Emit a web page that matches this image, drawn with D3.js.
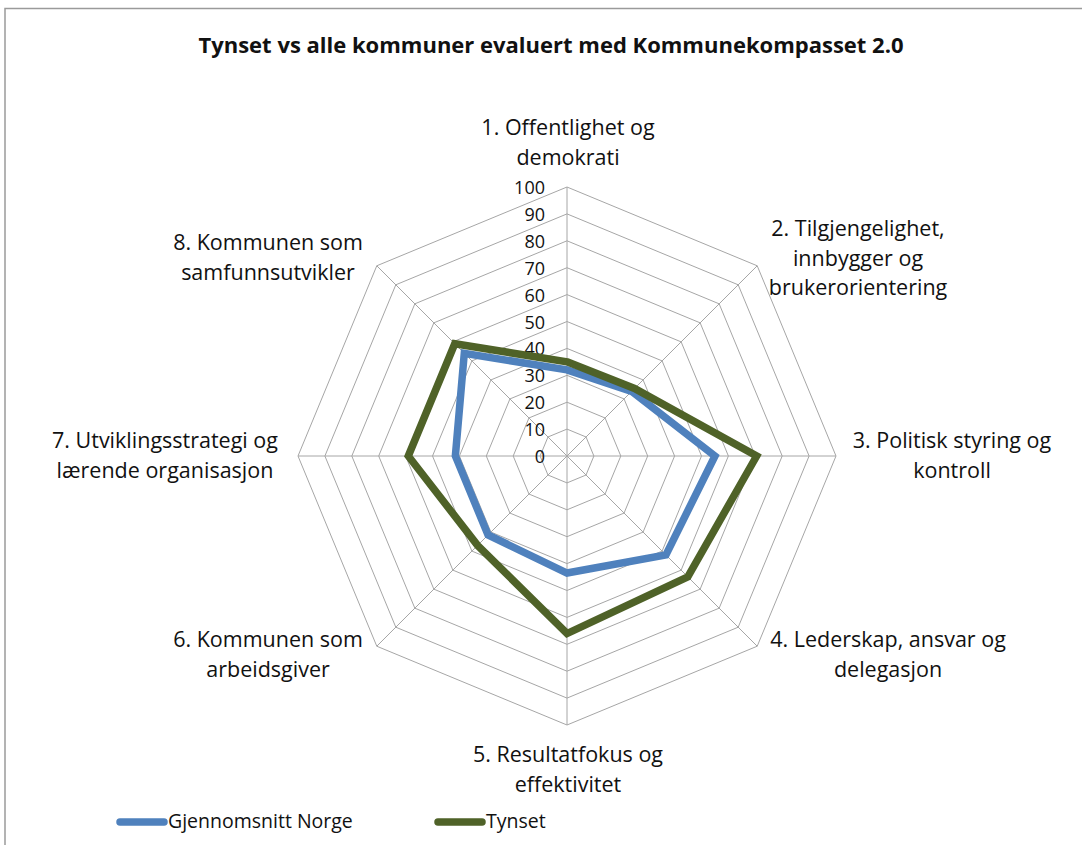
<!DOCTYPE html>
<html>
<head>
<meta charset="utf-8">
<title>Kommunekompasset radar</title>
<script src="https://d3js.org/d3.v7.min.js"></script>
<style>
  body { margin: 0; background: #fff; }
  svg text { font-family: "Open Sans", sans-serif; fill: #111; }
  .grid { fill: none; stroke: #a6a6a6; stroke-width: 1px; }
</style>
</head>
<body>
<div id="viz"></div>
<script>
// axis labels, one entry per spoke (split into lines)
var categories = [
  ["1. Offentlighet og", "demokrati"],
  ["2. Tilgjengelighet,", "innbygger og", "brukerorientering"],
  ["3. Politisk styring og", "kontroll"],
  ["4. Lederskap, ansvar og", "delegasjon"],
  ["5. Resultatfokus og", "effektivitet"],
  ["6. Kommunen som", "arbeidsgiver"],
  ["7. Utviklingsstrategi og", "lærende organisasjon"],
  ["8. Kommunen som", "samfunnsutvikler"]
];
var seriesNames = ["Gjennomsnitt Norge", "Tynset"];
var norge  = [32, 34, 55, 52, 43.5, 41.5, 41.5, 54];
var tynset = [35, 35.5, 70.5, 63.5, 66, 47, 59, 59];
var ticks = [0, 10, 20, 30, 40, 50, 60, 70, 80, 90, 100];
var colors = ["#4f81bd", "#4f6228"];

var W = 1082, H = 845;
var cx = 567, cy = 456, R = 269;

var svg = d3.select("#viz").append("svg")
    .attr("width", W)
    .attr("height", H);

// chart area frame (only top and left edges visible in the picture)
svg.append("path")
    .attr("d", "M5,845 L5,8.5 L1082,8.5")
    .attr("fill", "none")
    .attr("stroke", "#9a9a9a")
    .attr("stroke-width", 1.5);

svg.append("text")
    .attr("x", 551)
    .attr("y", 53)
    .attr("text-anchor", "middle")
    .style("font-size", "22px")
    .style("font-weight", "bold")
    .text("Tynset vs alle kommuner evaluert med Kommunekompasset 2.0");

var n = categories.length;
var r = d3.scaleLinear().domain([0, 100]).range([0, R]);
var angle = function(i) { return i * 2 * Math.PI / n; };

var g = svg.append("g").attr("transform", "translate(" + cx + "," + cy + ")");

// rings
var ring = d3.lineRadial().angle(function(d, i) { return angle(i); }).curve(d3.curveLinearClosed);
ticks.slice(1).forEach(function(t) {
  g.append("path")
      .attr("class", "grid")
      .attr("d", ring.radius(r(t))(d3.range(n)));
});

// spokes
d3.range(n).forEach(function(i) {
  g.append("line")
      .attr("class", "grid")
      .attr("x1", 0).attr("y1", 0)
      .attr("x2", r(100) * Math.sin(angle(i)))
      .attr("y2", -r(100) * Math.cos(angle(i)));
});

// tick labels on the vertical axis
g.selectAll(".tick")
    .data(ticks)
  .enter().append("text")
    .attr("x", -22)
    .attr("y", function(d) { return -r(d) + 7; })
    .attr("text-anchor", "end")
    .style("font-size", "18px")
    .text(function(d) { return d; });

// series
var line = d3.lineRadial()
    .angle(function(d, i) { return angle(i); })
    .radius(function(d) { return r(d); })
    .curve(d3.curveLinearClosed);

[norge, tynset].forEach(function(vals, k) {
  g.append("path")
      .attr("d", line(vals))
      .attr("fill", "none")
      .attr("stroke", colors[k])
      .attr("stroke-width", 7.5)
      .attr("stroke-linejoin", "miter");
});

// category labels (centre positions)
var labelPos = [
  [568, 128], [858, 229], [952, 441], [888, 640],
  [568, 755], [268, 640], [165, 441], [268, 243]
];
categories.forEach(function(lines, i) {
  var t = svg.append("text")
      .attr("text-anchor", "middle")
      .style("font-size", "21.5px");
  lines.forEach(function(s, j) {
    t.append("tspan")
        .attr("x", labelPos[i][0])
        .attr("y", labelPos[i][1] + 7 + j * 29.5)
        .text(s);
  });
});

// legend
var legX = [120, 438];
seriesNames.forEach(function(name, k) {
  svg.append("line")
      .attr("x1", legX[k]).attr("x2", legX[k] + 44)
      .attr("y1", 822).attr("y2", 822)
      .attr("stroke", colors[k])
      .attr("stroke-width", 7.5)
      .attr("stroke-linecap", "round");
  svg.append("text")
      .attr("x", legX[k] + 48)
      .attr("y", 828)
      .style("font-size", "19.5px")
      .text(name);
});
</script>
</body>
</html>
